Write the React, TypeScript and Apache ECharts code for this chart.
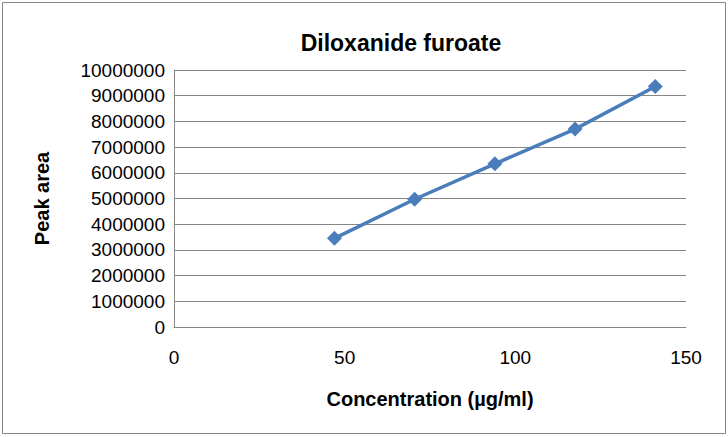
import React, { useEffect, useRef } from "react";
import * as echarts from "echarts";

const concentration = [47, 70.5, 94, 117.5, 141];
const peakArea = [3450000, 4970000, 6350000, 7700000, 9360000];
const chartTitle = "Diloxanide furoate";
const xAxisName = "Concentration (µg/ml)";
const yAxisName = "Peak area";

export default function App() {
  const ref = useRef<HTMLDivElement>(null);
  useEffect(() => {
    document.body.style.margin = "0";
    const chart = echarts.init(ref.current!, null, { renderer: "svg" });
    const font = "'Liberation Sans', Arial, sans-serif";
    chart.setOption({
      animation: false,
      backgroundColor: "#ffffff",
      graphic: [
        {
          type: "rect",
          shape: { x: 2.5, y: 2.5, width: 723, height: 431 },
          style: { fill: "none", stroke: "#868686", lineWidth: 1 },
          silent: true,
        },
      ],
      title: {
        text: chartTitle,
        left: 396,
        top: 26,
        textAlign: "center",
        textStyle: { fontFamily: font, fontWeight: "bold", fontSize: 23, color: "#000" },
      },
      grid: { left: 174, right: 42, top: 70, bottom: 110 },
      xAxis: {
        type: "value",
        min: 0,
        max: 150,
        interval: 50,
        name: xAxisName,
        nameLocation: "middle",
        nameGap: 62,
        nameTextStyle: { fontFamily: font, fontWeight: "bold", fontSize: 20, color: "#000" },
        axisLine: { show: true, lineStyle: { color: "#868686", width: 1 } },
        axisTick: { show: false },
        splitLine: { show: false },
        axisLabel: { fontFamily: font, fontSize: 19, color: "#000", margin: 21 },
      },
      yAxis: {
        type: "value",
        min: 0,
        max: 10000000,
        interval: 1000000,
        name: yAxisName,
        nameLocation: "middle",
        nameGap: 122,
        nameRotate: 90,
        nameTextStyle: { fontFamily: font, fontWeight: "bold", fontSize: 20, color: "#000" },
        axisLine: { show: true, lineStyle: { color: "#868686", width: 1 } },
        axisTick: { show: false },
        splitLine: { show: true, lineStyle: { color: "#868686", width: 1 } },
        axisLabel: {
          fontFamily: font,
          fontSize: 19,
          color: "#000",
          margin: 9,
          formatter: (v: number) => String(v),
        },
      },
      series: [
        {
          type: "line",
          data: concentration.map((c, i) => [c, peakArea[i]]),
          symbol: "diamond",
          symbolSize: 15,
          lineStyle: { color: "#4A7EBB", width: 3.5 },
          itemStyle: { color: "#4A7EBB" },
        },
      ],
    });
    return () => chart.dispose();
  }, []);
  return <div ref={ref} style={{ width: 728, height: 437 }} />;
}
